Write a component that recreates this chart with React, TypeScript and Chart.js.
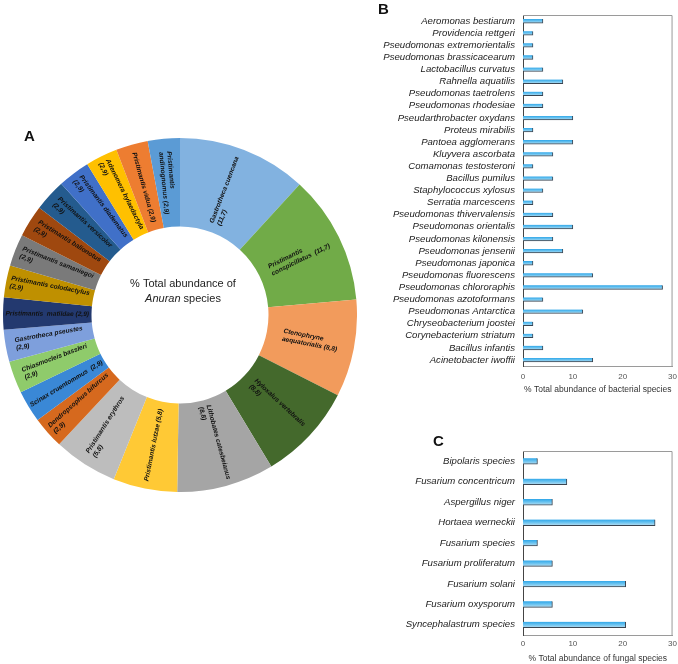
import React, { useEffect, useRef } from "react";
import { Chart, registerables } from "chart.js";
Chart.register(...registerables);

const FONT = "'Liberation Sans', Arial, sans-serif";

// ---------- Panel A: anuran species ----------
const anuranLabelLines = [
  "Gastrotheca cuencana\n(11,7)",
  "Pristimantis\nconspicillatus  (11,7)",
  "Ctenophryne\naequatorialis (8,8)",
  "Hyloxalus vertebralis\n(8,8)",
  "Lithobates catesbeianus\n(8,8)",
  "Pristimantis lutzae (5,8)",
  "Pristimantis erythros\n(5,8)",
  "Dendropsophus bifurcus\n(2,9)",
  "Scinax cruentommus  (2,9)",
  "Chiasmocleis bassleri\n(2,9)",
  "Gastrotheca pseustes\n(2,9)",
  "Pristimantis  matildae (2,9)",
  "Pristimantis colodactylus\n(2,9)",
  "Pristimantis samaniegoi\n(2,9)",
  "Pristimantis balionotus\n(2,9)",
  "Pristimantis versicolor\n(2,9)",
  "Pristimantis diadematus\n(2,9)",
  "Adenomera hylaedactyla\n(2,9)",
  "Pristimantis vidua (2,9)",
  "Pristimantis\nandinognomus (2,9)",
];
const anuranValues = [11.7, 11.7, 8.8, 8.8, 8.8, 5.8, 5.8, 2.9, 2.9, 2.9, 2.9, 2.9, 2.9, 2.9, 2.9, 2.9, 2.9, 2.9, 2.9, 2.9];
const anuranColors = [
  "#82B2E0", "#71AB48", "#F29B5C", "#44692C", "#A5A5A5",
  "#FFC935", "#BDBDBD", "#D6691E", "#3A88D6", "#8FCB6B",
  "#7E9FDC", "#23396F", "#BF9000", "#7A7A7A", "#9F480F",
  "#245B8E", "#4070C8", "#FFC000", "#ED7D31", "#5B9BD5",
];

// ---------- Panel B: bacterial species ----------
const bacteriaSpecies = [
  "Aeromonas bestiarum", "Providencia rettgeri", "Pseudomonas extremorientalis", "Pseudomonas brassicacearum",
  "Lactobacillus curvatus", "Rahnella aquatilis", "Pseudomonas taetrolens", "Pseudomonas rhodesiae",
  "Pseudarthrobacter oxydans", "Proteus mirabilis", "Pantoea agglomerans", "Kluyvera ascorbata",
  "Comamonas testosteroni", "Bacillus pumilus", "Staphylococcus xylosus", "Serratia marcescens",
  "Pseudomonas thivervalensis", "Pseudomonas orientalis", "Pseudomonas kilonensis", "Pseudomonas jensenii",
  "Pseudomonas japonica", "Pseudomonas fluorescens", "Pseudomonas chlororaphis", "Pseudomonas azotoformans",
  "Pseudomonas Antarctica", "Chryseobacterium joostei", "Corynebacterium striatum", "Bacillus infantis",
  "Acinetobacter iwoffii",
];
const bacteriaValues = [4, 2, 2, 2, 4, 8, 4, 4, 10, 2, 10, 6, 2, 6, 4, 2, 6, 10, 6, 8, 2, 14, 28, 4, 12, 2, 2, 4, 14];

// ---------- Panel C: fungal species ----------
const fungiSpecies = [
  "Bipolaris species", "Fusarium concentricum", "Aspergillus niger", "Hortaea werneckii",
  "Fusarium species", "Fusarium proliferatum", "Fusarium solani", "Fusarium oxysporum",
  "Syncephalastrum species",
];
const fungiValues = [2.9, 8.8, 5.9, 26.5, 2.9, 5.9, 20.6, 5.9, 20.6];

const xTicks = [0, 10, 20, 30];

const doughnutLabelPlugin = {
  id: "doughnutLabels",
  afterDatasetsDraw(chart: any) {
    const ctx = chart.ctx;
    const meta = chart.getDatasetMeta(0);
    ctx.save();
    ctx.fillStyle = "#111";
    ctx.textBaseline = "middle";
    ctx.textAlign = "left";
    ctx.font = `italic bold 6.6px ${FONT}`;
    meta.data.forEach((arc: any, i: number) => {
      const p = arc.getProps(["x", "y", "startAngle", "endAngle", "innerRadius", "outerRadius"], true);
      const mid = (p.startAngle + p.endAngle) / 2;
      const r = (p.innerRadius + p.outerRadius) / 2;
      const cx = p.x + Math.cos(mid) * r;
      const cy = p.y + Math.sin(mid) * r;
      const rot = Math.cos(mid) < 0 ? mid + Math.PI : mid;
      const lines = anuranLabelLines[i].split("\n");
      const w = Math.max(...lines.map((l) => ctx.measureText(l).width));
      const lh = 8;
      ctx.save();
      ctx.translate(cx, cy);
      ctx.rotate(rot);
      lines.forEach((ln, k) => {
        ctx.fillText(ln, -w / 2, (k - (lines.length - 1) / 2) * lh);
      });
      ctx.restore();
    });
    // centre text
    const c = meta.data[0];
    const cx = c.x;
    const cy = c.y;
    ctx.fillStyle = "#222";
    ctx.textAlign = "center";
    ctx.font = `11px ${FONT}`;
    ctx.fillText("% Total abundance of", cx + 3, cy - 31);
    ctx.font = `italic 11px ${FONT}`;
    const a = "Anuran";
    const aw = ctx.measureText(a).width;
    ctx.font = `11px ${FONT}`;
    const s = " species";
    const sw = ctx.measureText(s).width;
    const start = cx + 3 - (aw + sw) / 2;
    ctx.textAlign = "left";
    ctx.font = `italic 11px ${FONT}`;
    ctx.fillText(a, start, cy - 16);
    ctx.font = `11px ${FONT}`;
    ctx.fillText(s, start + aw, cy - 16);
    ctx.restore();
  },
};

const framePlugin = {
  id: "frame",
  afterDraw(chart: any) {
    const { ctx, chartArea: a } = chart;
    ctx.save();
    ctx.strokeStyle = "#9a9a9a";
    ctx.lineWidth = 1;
    ctx.beginPath();
    ctx.moveTo(a.left, a.top + 0.5);
    ctx.lineTo(a.right - 0.5, a.top + 0.5);
    ctx.lineTo(a.right - 0.5, a.bottom);
    ctx.stroke();
    ctx.restore();
  },
};

function barConfig(
  labels: string[],
  values: number[],
  o: { thickness: number; title: string; axisH: number; padTop: number; tickPad: number; titlePadBottom: number }
) {
  return {
    type: "bar" as const,
    data: {
      labels,
      datasets: [
        {
          data: values,
          barThickness: o.thickness,
          backgroundColor: (c: any) => {
            const chart = c.chart;
            const ys = chart.scales && chart.scales.y;
            if (!ys || c.dataIndex === undefined || !chart.chartArea) return "#3FAEE8";
            const yc = ys.getPixelForValue(c.dataIndex);
            const g = chart.ctx.createLinearGradient(0, yc - o.thickness / 2, 0, yc + o.thickness / 2);
            g.addColorStop(0, "#2FA6E8");
            g.addColorStop(0.5, "#6CC4F0");
            g.addColorStop(1, "#B9DDF0");
            return g;
          },
          borderColor: "#3a4450",
          borderWidth: { top: 0, left: 0, right: 1, bottom: 1 },
          borderSkipped: false,
        },
      ],
    },
    options: {
      indexAxis: "y" as const,
      animation: false as const,
      responsive: false,
      layout: { padding: { top: o.padTop, right: 6, left: 0, bottom: 0 } },
      plugins: { legend: { display: false }, tooltip: { enabled: false } },
      scales: {
        x: {
          min: 0,
          max: 30,
          afterBuildTicks: (s: any) => {
            s.ticks = xTicks.map((v) => ({ value: v }));
          },
          ticks: { font: { family: FONT, size: 8 }, color: "#555", padding: o.tickPad },
          grid: { display: false, drawTicks: false },
          border: { color: "#9a9a9a" },
          title: {
            display: true,
            text: o.title,
            font: { family: FONT, size: 8.5 },
            color: "#333",
            padding: { top: 4, bottom: o.titlePadBottom },
          },
          afterFit: (s: any) => {
            s.height = o.axisH;
          },
        },
        y: {
          ticks: { font: { family: FONT, size: 9.6, style: "italic" as const }, color: "#222", padding: 8, autoSkip: false },
          grid: { display: false, drawTicks: false },
          border: { color: "#444" },
          afterFit: (s: any) => {
            s.width = 153;
          },
        },
      },
    },
    plugins: [framePlugin],
  };
}

export default function App() {
  const aRef = useRef<HTMLCanvasElement>(null);
  const bRef = useRef<HTMLCanvasElement>(null);
  const cRef = useRef<HTMLCanvasElement>(null);

  useEffect(() => {
    const da = new Chart(aRef.current!, {
      type: "doughnut",
      data: {
        labels: anuranLabelLines.map((l) => l.replace("\n", " ")),
        datasets: [{ data: anuranValues, backgroundColor: anuranColors, borderWidth: 0 }],
      },
      options: {
        animation: false,
        responsive: false,
        cutout: "50%",
        layout: { padding: 0 },
        plugins: { legend: { display: false }, tooltip: { enabled: false } },
      },
      plugins: [doughnutLabelPlugin],
    } as any);
    const db = new Chart(
      bRef.current!,
      barConfig(bacteriaSpecies, bacteriaValues, {
        thickness: 4,
        title: "% Total abundance of bacterial species",
        axisH: 34,
        padTop: 15,
        tickPad: 6,
        titlePadBottom: 5,
      }) as any
    );
    const dc = new Chart(
      cRef.current!,
      barConfig(fungiSpecies, fungiValues, {
        thickness: 6,
        title: "% Total abundance of fungal species",
        axisH: 29,
        padTop: 21,
        tickPad: 4,
        titlePadBottom: 0,
      }) as any
    );
    return () => {
      da.destroy();
      db.destroy();
      dc.destroy();
    };
  }, []);

  const letter: React.CSSProperties = { position: "absolute", font: `bold 15px ${FONT}`, color: "#111" };

  return (
    <div style={{ position: "absolute", left: 0, top: 0, width: 678, height: 664, background: "#fff", overflow: "hidden" }}>
      <canvas ref={aRef} width={354} height={354} style={{ position: "absolute", left: 3, top: 138, width: 354, height: 354 }} />
      <canvas ref={bRef} width={313} height={400} style={{ position: "absolute", left: 370, top: 0, width: 313, height: 400 }} />
      <canvas ref={cRef} width={311} height={234} style={{ position: "absolute", left: 370, top: 430, width: 311, height: 234 }} />
      <div style={{ ...letter, left: 24, top: 127 }}>A</div>
      <div style={{ ...letter, left: 378, top: 0 }}>B</div>
      <div style={{ ...letter, left: 433, top: 432 }}>C</div>
    </div>
  );
}
